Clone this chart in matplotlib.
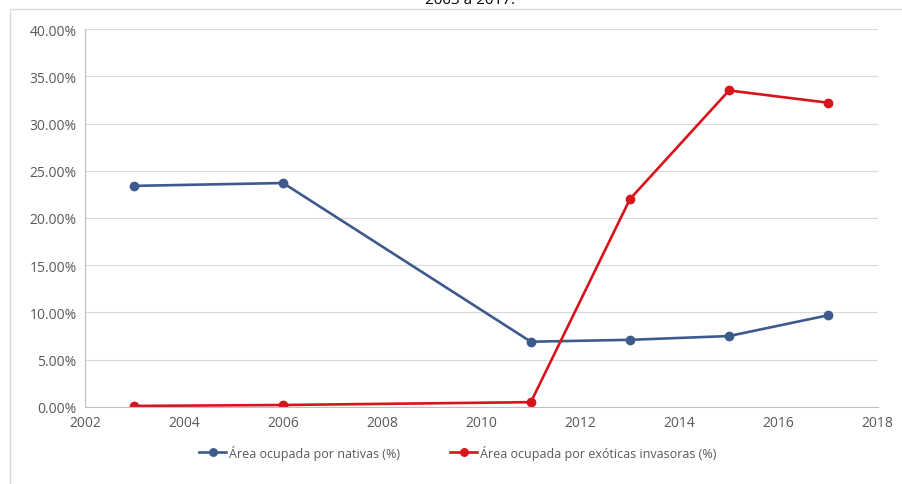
import matplotlib
matplotlib.use("Agg")
import matplotlib.pyplot as plt
from matplotlib.patches import Rectangle
from matplotlib.ticker import FuncFormatter, MultipleLocator

plt.rcParams['font.family'] = ['Open Sans', 'DejaVu Sans']

# Dados
anos = [2003, 2006, 2011, 2013, 2015, 2017]
nativas = [23.4, 23.7, 6.9, 7.1, 7.5, 9.7]
exoticas = [0.1, 0.2, 0.5, 22.0, 33.5, 32.2]

fig = plt.figure(figsize=(9.03, 4.85), dpi=100)
ax = fig.add_axes([0.094, 0.159, 0.878, 0.779])

# Moldura do gráfico
fig.patches.append(Rectangle((0.011, -0.01), 0.99, 0.99, transform=fig.transFigure,
                             fill=False, edgecolor='#D9D9D9', linewidth=1))

# Título cortado no topo
fig.text(0.52, 1.0, '2003 a 2017.', ha='center', va='center', fontsize=11, color='#000000')

ax.plot(anos, nativas, color='#3E5A8C', linewidth=1.9, marker='o', markersize=6,
        label='Área ocupada por nativas (%)')
ax.plot(anos, exoticas, color='#D7141B', linewidth=1.9, marker='o', markersize=6,
        label='Área ocupada por exóticas invasoras (%)')

ax.set_xlim(2002, 2018)
ax.set_ylim(0, 40)
ax.xaxis.set_major_locator(MultipleLocator(2))
ax.yaxis.set_major_locator(MultipleLocator(5))
ax.yaxis.set_major_formatter(FuncFormatter(lambda v, p: f'{v:.2f}%'))

ax.grid(axis='y', color='#D9D9D9', linewidth=0.8)
ax.set_axisbelow(True)
for s in ['top', 'right']:
    ax.spines[s].set_visible(False)
for s in ['left', 'bottom']:
    ax.spines[s].set_color('#BFBFBF')
ax.tick_params(length=0, labelsize=10, colors='#595959', pad=6)

leg = ax.legend(loc='upper center', bbox_to_anchor=(0.47, -0.07), ncol=2, frameon=False,
                fontsize=9, handlelength=2.2, columnspacing=4, handletextpad=0.2,
                markerscale=0.9)
for t in leg.get_texts():
    t.set_color('#595959')

fig.savefig('out.png', dpi=100)
